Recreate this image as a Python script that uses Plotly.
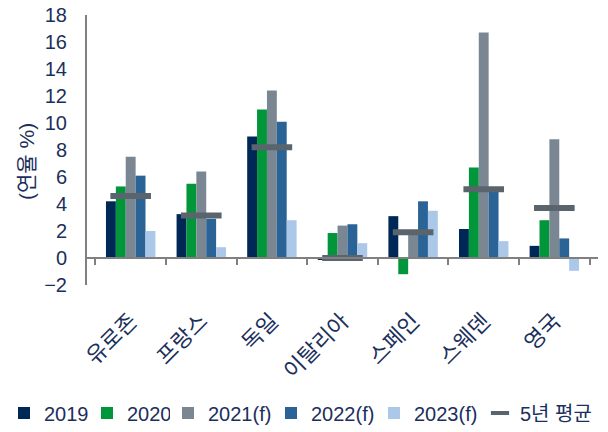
import plotly.graph_objects as go

categories = ["유로존", "프랑스", "독일", "이탈리아", "스페인", "스웨덴", "영국"]
v2019 = [4.2, 3.25, 9.0, -0.15, 3.1, 2.15, 0.9]
v2020 = [5.3, 5.5, 11.0, 1.85, -1.2, 6.7, 2.8]
v2021 = [7.5, 6.4, 12.4, 2.4, 1.75, 16.7, 8.8]
v2022 = [6.1, 2.9, 10.1, 2.5, 4.2, 5.0, 1.45]
v2023 = [2.0, 0.8, 2.8, 1.1, 3.5, 1.25, -0.95]
avg5 = [4.6, 3.15, 8.2, 0.0, 1.9, 5.1, 3.7]

series = [
    ("2019", v2019, "#002856", "legend"),
    ("2020", v2020, "#009639", "legend"),
    ("2021(f)", v2021, "#7a8793", "legend2"),
    ("2022(f)", v2022, "#2a6496", "legend2"),
    ("2023(f)", v2023, "#abc8e8", "legend2"),
]

txt = "#1b2f5c"
avg_col = "#5a646c"
font_family = "Arial, Liberation Sans, Noto Sans CJK KR, sans-serif"

fig = go.Figure()
for name, vals, col, lg in series:
    fig.add_trace(go.Bar(x=categories, y=vals, name=name, marker_color=col,
                         marker_line_width=0, legend=lg))

fig.add_trace(go.Scatter(x=categories, y=avg5, name="5년 평균", mode="markers",
                         showlegend=False,
                         marker=dict(symbol="line-ew", size=29, color=avg_col,
                                     line=dict(width=6, color=avg_col))))
# legend entry for the average marker (shorter dash like the original)
fig.add_trace(go.Scatter(x=[None], y=[None], name="5년 평균", mode="markers",
                         legend="legend3",
                         marker=dict(symbol="line-ew", size=13, color=avg_col,
                                     line=dict(width=4, color=avg_col))))

# invisible helper trace for the axis line at zero
fig.add_trace(go.Scatter(x=categories, y=[0]*len(categories), xaxis="x2",
                         mode="markers", marker=dict(opacity=0),
                         showlegend=False, hoverinfo="skip"))

leg_y = 1 - 413/432
common = dict(orientation="h", xref="container", yref="container",
              xanchor="left", y=leg_y, yanchor="middle",
              font=dict(size=20, color=txt), itemwidth=30, tracegroupgap=0,
              entrywidthmode="pixels", traceorder="normal",
              bgcolor="rgba(0,0,0,0)")

fig.update_layout(
    width=608, height=432,
    margin=dict(l=87, r=10, t=15, b=147, autoexpand=False),
    barmode="group", bargap=0.3, bargroupgap=0,
    plot_bgcolor="white", paper_bgcolor="white",
    font=dict(family=font_family, color=txt, size=20),
    showlegend=True,
    legend=dict(common, x=4/608, entrywidth=38),
    legend2=dict(common, x=168/608, entrywidth=58),
    legend3=dict(common, x=480/608, entrywidth=0),
    xaxis=dict(showline=False, showgrid=False, tickangle=-45, ticks="",
               tickfont=dict(size=22, color=txt), zeroline=False,
               automargin=False, ticklabelstandoff=18),
    xaxis2=dict(overlaying="x", anchor="free", position=0.1, showline=True,
                linecolor="#808080", linewidth=2, ticks="outside", tickson="boundaries",
                tickcolor="#808080", ticklen=6, tickwidth=1.5, showticklabels=False,
                showgrid=False, matches="x", zeroline=False, automargin=False),
    yaxis=dict(range=[-2, 18], dtick=2, showgrid=False, zeroline=False,
               showline=True, linecolor="#808080", linewidth=2,
               ticks="", tickfont=dict(size=20, color=txt), automargin=False,
               ticklabelstandoff=14),
    annotations=[dict(text="(연율 %)", xref="paper", yref="paper",
                      x=(26-87)/511, y=(285-162)/270, xanchor="center", yanchor="middle",
                      textangle=-90, showarrow=False, font=dict(size=21, color=txt))],
)

fig.write_html("out.html")
